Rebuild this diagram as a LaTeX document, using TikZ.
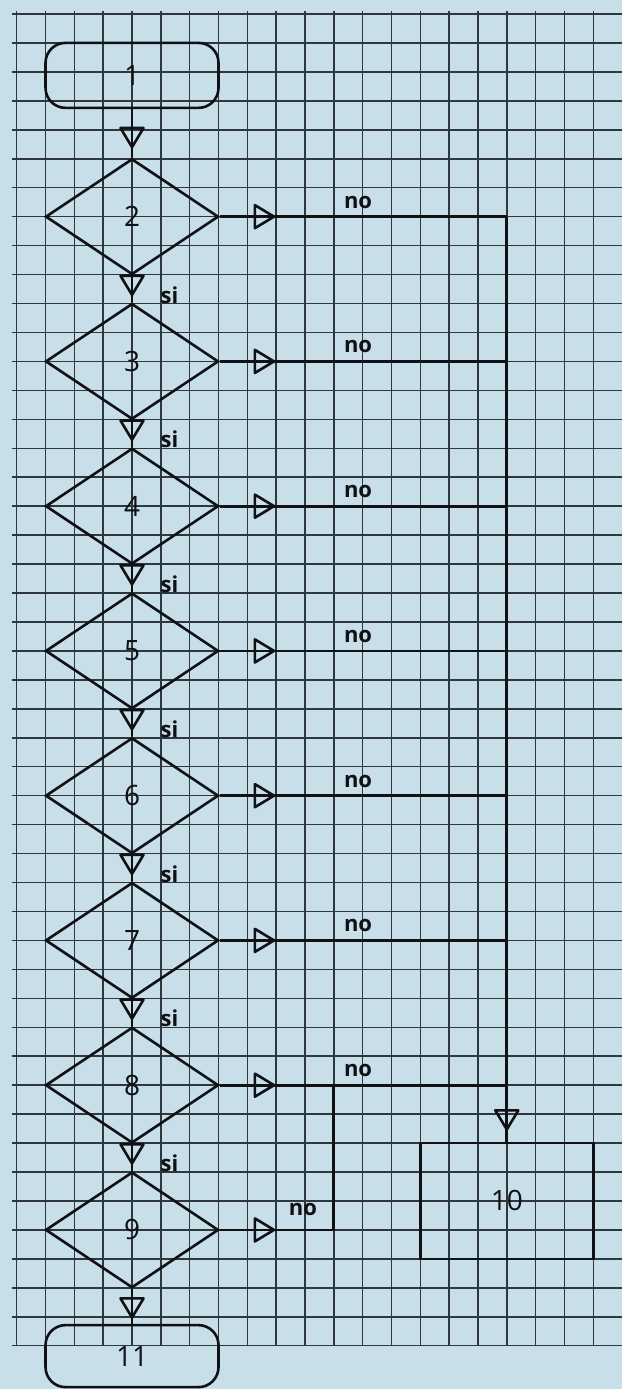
\documentclass[tikz,border=0pt]{standalone}
\usepackage{fontspec}
\newfontfamily\handfont{Open Sans}
\usetikzlibrary{shapes.geometric,arrows.meta,decorations.markings}
\definecolor{paper}{RGB}{200,222,232}
\definecolor{gridc}{RGB}{45,55,60}
\definecolor{ink}{RGB}{15,17,20}
\begin{document}
\begin{tikzpicture}[x={(28.83pt,0pt)}, y={(0pt,-28.95pt)},
  shapeline/.style={draw=ink, line width=2.6pt},
  numfont/.style={font=\handfont\fontsize{28}{28}\selectfont, text=ink},
  term/.style={shapeline, numfont, rectangle, rounded corners=20pt, minimum width=173pt, inner sep=0pt},
  dec/.style={shapeline, numfont, diamond, minimum width=173pt, minimum height=115.8pt, inner sep=0pt},
  proc/.style={shapeline, numfont, rectangle, minimum width=173pt, minimum height=115.8pt, inner sep=0pt},
  conn/.style={draw=ink, line width=2.8pt},
  tri/.style={decoration={markings, mark=at position #1 with {\arrow[ink]{Triangle[open, length=23pt, width=27pt, line width=2.6pt, round]}}}, postaction={decorate}},
  lab/.style={font=\handfont\bfseries\fontsize{22}{22}\selectfont, text=ink, inner sep=0pt},
  gridl/.style={draw=gridc, line width=1.5pt}
]
% paper and grid
\fill[paper] (-16.7pt,14pt) rectangle (605.3pt,-1375pt);
\useasboundingbox (-16.7pt,14pt) rectangle (605.3pt,-1375pt);
\foreach \j in {0,...,46} \draw[gridl] (-0.17,\j) -- (20.99,\j);
\foreach \i in {0,...,20} \draw[gridl] (\i,-0.1) -- (\i,46);

% nodes
\node[term, minimum height=65pt] (t1) at (4,2.12) {1};
\foreach \n in {2,...,9} \node[dec] (d\n) at (4,{7+5*(\n-2)}) {\n};
\node[proc] (b10) at (17,41) {10};
\node[term, minimum height=62pt] (t11) at (4,46.36) {11};

% yes chain
\draw[conn, tri=-9pt] (t1) -- (d2);
\foreach \n [evaluate=\n as \m using int(\n+1)] in {2,...,8}
  \draw[conn, tri=-6pt] (d\n) -- (d\m);
\draw[conn, tri=-5pt] (d9) -- (t11);

% no branches
\coordinate (top) at (d2.east -| b10.north);
\draw[conn, tri=55.5pt] (d2.east) -- (top);
\draw[conn, tri=-11pt] (top) -- (b10.north);
\foreach \n in {3,...,8}
  \draw[conn, tri=55.5pt] (d\n.east) -- (d\n.east -| b10.north);
\coordinate (j9) at (11,37);
\draw[conn, tri=55.5pt] (d9.east) -- (d9.east -| j9) -- (j9);

% labels
\foreach \n in {2,...,8} \node[lab] (si\n) at (5.3,{5*\n-0.3}) {si};
\foreach \n in {2,...,8} \node[lab] (no\n) at (11.84,{7+5*(\n-2)-0.5}) {no};
\node[lab] (no9) at (9.93,41.31) {no};
\end{tikzpicture}
\end{document}
